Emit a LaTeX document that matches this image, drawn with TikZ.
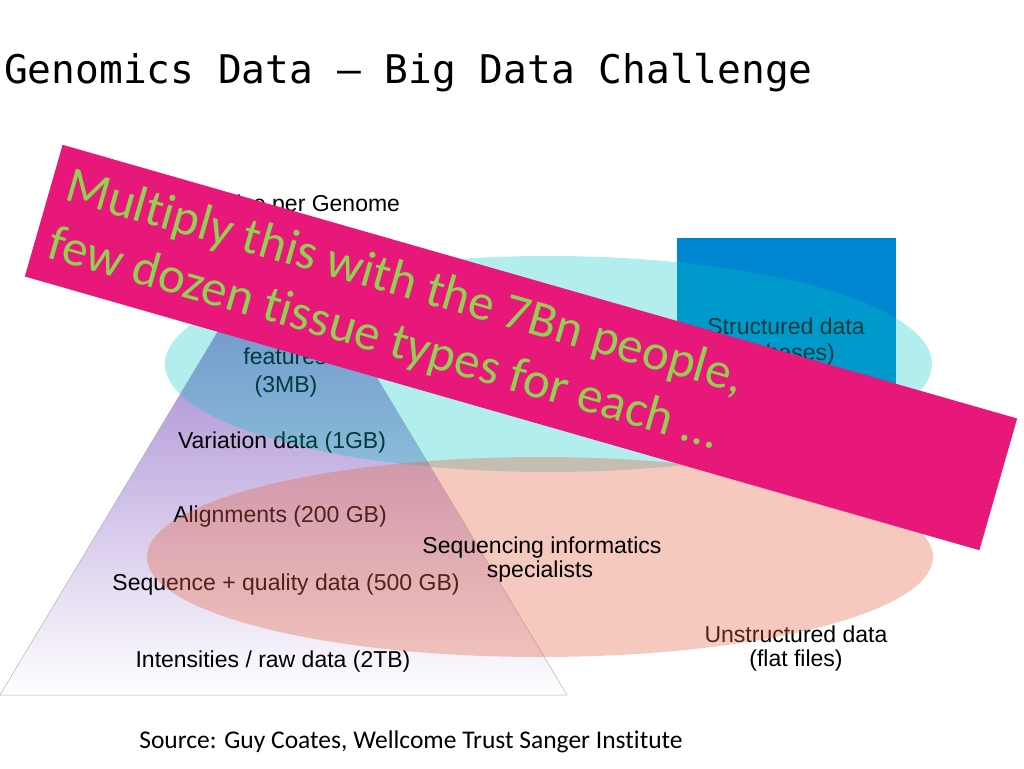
\documentclass[tikz,border=0pt]{standalone}
\usepackage{fontspec}
\setmainfont{Liberation Sans}
\newfontfamily\monofont{DejaVu Sans Mono}
\newfontfamily\calfont[Ligatures=NoCommon]{Carlito}
\usepackage{tikz}

\begin{document}
\begin{tikzpicture}[x=1pt, y=-1pt, every node/.style={align=center, inner sep=0pt},
    lbl/.style={font=\fontsize{23}{27}\selectfont, anchor=base},
    bantxt/.style={font=\calfont\fontsize{51}{60}\selectfont, text=bangreen, anchor=base west}]
  \definecolor{pyrtop}{RGB}{141,104,198} \definecolor{dbblue}{RGB}{0,134,208}
  \definecolor{tealfill}{RGB}{0,200,195} \definecolor{salmonfill}{RGB}{230,100,70}
  \definecolor{banpink}{RGB}{232,24,122} \definecolor{bangreen}{RGB}{146,208,80}
  \useasboundingbox (0,0) rectangle (1024,768);

  \shade[top color=pyrtop, bottom color=white, draw=gray!60, line width=0.5pt]
    (283.5,222) coordinate (apex) -- (0,695) coordinate (bl) -- (567,695) coordinate (br) -- cycle;
  \node[lbl] (gen) at (285,211) {Data size per Genome};
  \node[lbl] (feat) at (285,364) {features};
  \node[lbl] (mb) at (286,392) {(3MB)};
  \node[lbl] (var) at (282,448) {Variation data (1GB)};
  \node[lbl] (aln) at (280,522) {Alignments (200 GB)};
  \node[lbl] (seq) at (286,590) {Sequence + quality data (500 GB)};
  \node[lbl] (raw) at (273,667) {Intensities / raw data (2TB)};

  \fill[dbblue] (677,238) rectangle (896,450);
  \node[lbl] (struct) at (786,334) {Structured data};
  \node[lbl, anchor=base east] (dbs) at (835,360) {(databases)};
  \fill[tealfill, opacity=0.3] (548.5,364) ellipse [x radius=383.5, y radius=108];

  \node[lbl] (unst) at (796,642) {Unstructured data};
  \node[lbl] (flat) at (796,666) {(flat files)};
  \fill[salmonfill, opacity=0.35] (540,557) ellipse [x radius=393, y radius=100];
  \node[lbl] (seqinf) at (542,553) {Sequencing informatics};
  \node[lbl] (spec) at (540,577) {specialists};

  \begin{scope}[shift={(521,347.5)}, rotate=-16, transform shape]
    \fill[banpink] (-496.5,-68.5) rectangle (496.5,68.5);
    \node[bantxt] (mult) at (-481,-15.6) {Multiply this with the 7Bn people,};
    \node[bantxt] (few) at (-482,44.4) {few dozen tissue types for each …};
  \end{scope}

  \node[font=\monofont\fontsize{39.5}{47}\selectfont, anchor=base west] (title) at (4,83) {Genomics Data – Big Data Challenge};
  \node[font=\calfont\fontsize{25.5}{30}\selectfont, anchor=base] (src) at (411,748) {Source: Guy Coates, Wellcome Trust Sanger Institute};
\end{tikzpicture}
\end{document}
